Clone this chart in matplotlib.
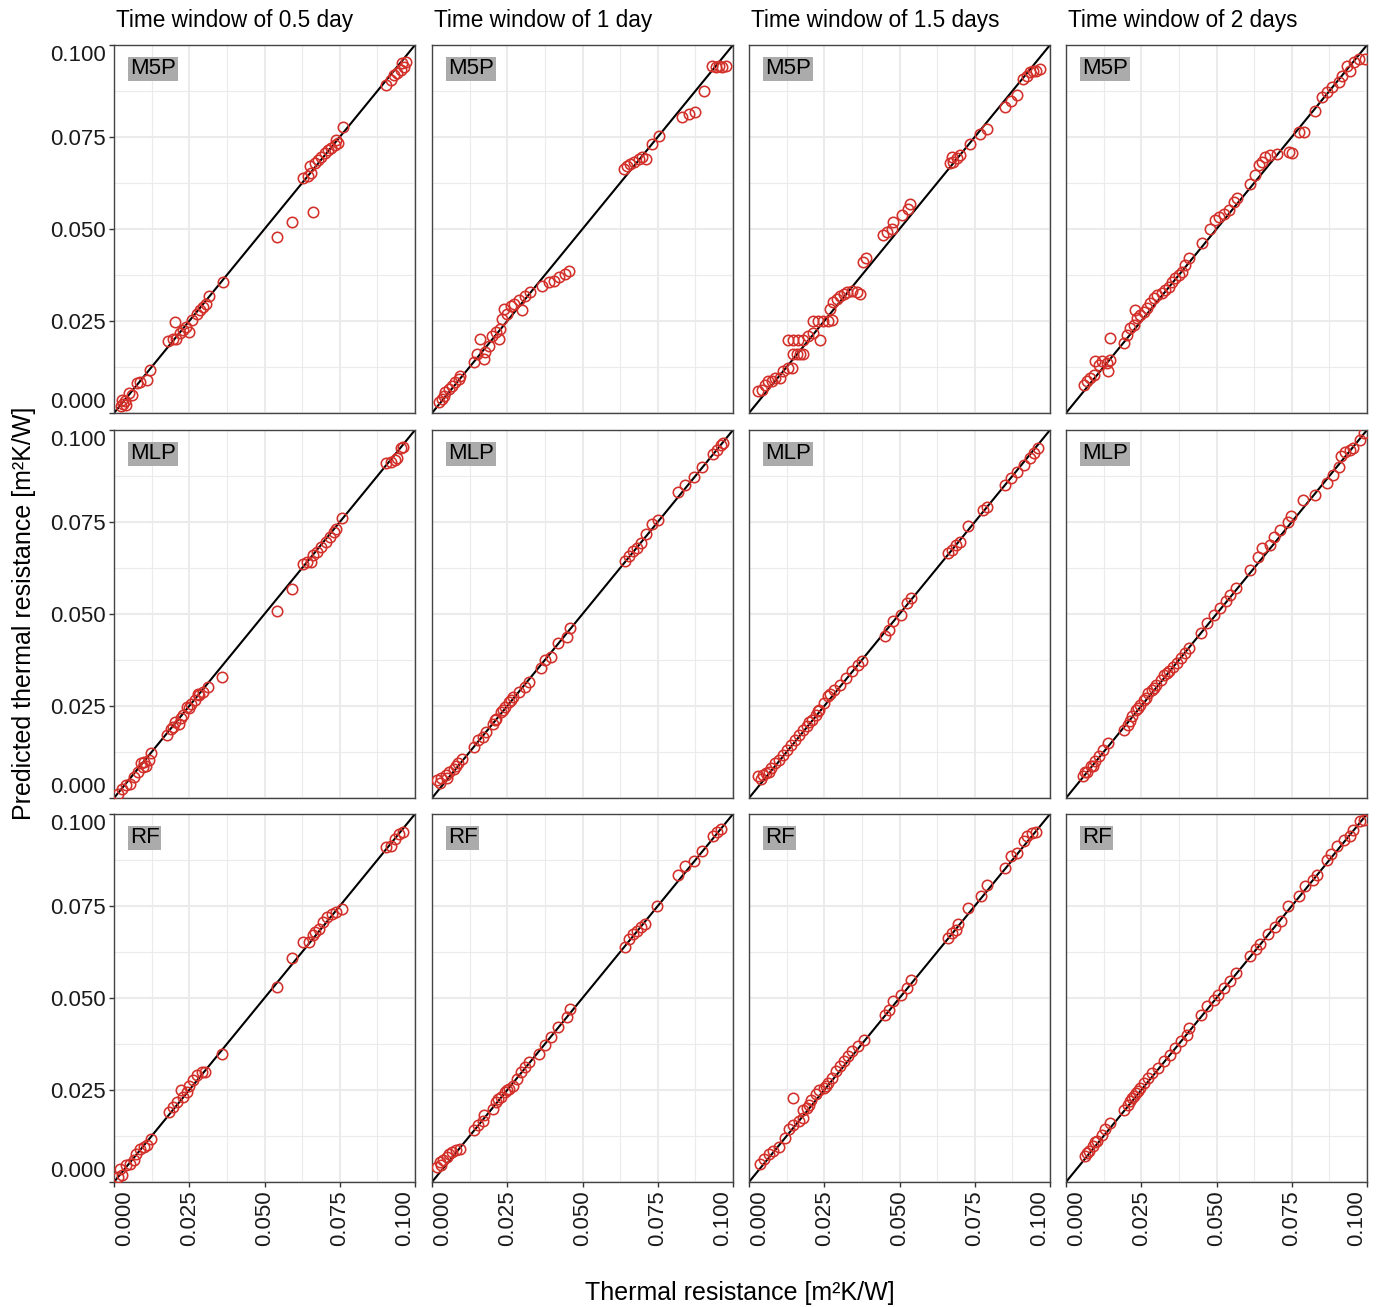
import numpy as np
import matplotlib
matplotlib.use('Agg')
import matplotlib.pyplot as plt
from matplotlib.ticker import MultipleLocator

plt.rcParams['font.family'] = ['Liberation Sans', 'DejaVu Sans']

windows = ['Time window of 0.5 day', 'Time window of 1 day',
           'Time window of 1.5 days', 'Time window of 2 days']
models = ['M5P', 'MLP', 'RF']
ticks = [0.000, 0.025, 0.050, 0.075, 0.100]
tick_labels = ['0.000', '0.025', '0.050', '0.075', '0.100']

m5p_05 = [(0.0022,0.0018),(0.0030,0.0025),(0.0035,0.0032),(0.0040,0.0022),(0.0028,0.0036),
          (0.0050,0.0054),(0.0060,0.0050),(0.0077,0.0081),(0.0088,0.0085),(0.0110,0.0090),(0.0120,0.0118),
          (0.0180,0.0195),(0.0195,0.0200),(0.0205,0.0200),(0.0204,0.0246),(0.0220,0.0217),(0.0230,0.0226),
          (0.0240,0.0235),(0.0250,0.0221),(0.0260,0.0253),(0.0275,0.0270),(0.0285,0.0279),(0.0295,0.0288),
          (0.0305,0.0297),(0.0314,0.0317),(0.0363,0.0357),
          (0.0542,0.0478),(0.0593,0.0518),(0.0661,0.0547),
          (0.0628,0.0638),(0.0645,0.0643),(0.0655,0.0652),(0.0650,0.0670),(0.0667,0.0679),(0.0678,0.0688),
          (0.0689,0.0697),(0.0700,0.0706),(0.0711,0.0715),(0.0722,0.0719),(0.0733,0.0728),(0.0744,0.0733),
          (0.0738,0.0742),(0.0762,0.0778),
          (0.0903,0.0891),(0.0919,0.0905),(0.0930,0.0919),(0.0941,0.0923),(0.0952,0.0932),(0.0958,0.0950),
          (0.0963,0.0941),(0.0969,0.0955)]
m5p_1 = [(0.0022,0.0029),(0.0033,0.0038),(0.0039,0.0047),(0.0044,0.0056),(0.0055,0.0065),(0.0066,0.0074),
         (0.0078,0.0083),(0.0089,0.0092),(0.0094,0.0101),
         (0.0139,0.0138),(0.0150,0.0160),(0.0161,0.0201),(0.0172,0.0147),(0.0177,0.0165),(0.0188,0.0183),
         (0.0200,0.0210),(0.0211,0.0219),(0.0222,0.0201),(0.0227,0.0228),(0.0233,0.0255),(0.0239,0.0283),
         (0.0250,0.0270),(0.0261,0.0292),(0.0272,0.0297),(0.0288,0.0306),(0.0299,0.0279),(0.0310,0.0319),
         (0.0327,0.0328),
         (0.0366,0.0346),(0.0388,0.0355),(0.0405,0.0360),(0.0421,0.0369),(0.0443,0.0378),(0.0455,0.0387),
         (0.0637,0.0663),(0.0648,0.0672),(0.0659,0.0677),(0.0670,0.0681),(0.0687,0.0690),(0.0698,0.0695),
         (0.0710,0.0690),(0.0732,0.0730),(0.0754,0.0753),
         (0.0831,0.0803),(0.0854,0.0812),(0.0874,0.0819),(0.0904,0.0876),
         (0.0931,0.0944),(0.0943,0.0940),(0.0954,0.0944),(0.0965,0.0940),(0.0976,0.0944)]
m5p_15 = [(0.0031,0.0059),(0.0042,0.0063),(0.0053,0.0077),(0.0064,0.0086),(0.0075,0.0086),(0.0086,0.0095),
          (0.0103,0.0095),(0.0114,0.0113),(0.0131,0.0122),(0.0142,0.0122),
          (0.0147,0.0160),(0.0158,0.0160),(0.0169,0.0160),(0.0180,0.0160),
          (0.0131,0.0199),(0.0147,0.0199),(0.0164,0.0199),(0.0180,0.0199),(0.0197,0.0208),(0.0214,0.0217),
          (0.0236,0.0199),
          (0.0214,0.0250),(0.0230,0.0250),(0.0247,0.0250),(0.0264,0.0250),(0.0275,0.0253),
          (0.0269,0.0283),(0.0280,0.0301),(0.0291,0.0310),(0.0302,0.0319),(0.0314,0.0323),(0.0325,0.0328),
          (0.0341,0.0332),(0.0358,0.0328),(0.0369,0.0323),
          (0.0380,0.0411),(0.0389,0.0420),
          (0.0446,0.0483),(0.0457,0.0492),(0.0474,0.0501),(0.0480,0.0519),(0.0507,0.0537),(0.0529,0.0555),
          (0.0535,0.0569),
          (0.0668,0.0678),(0.0679,0.0683),(0.0690,0.0692),(0.0701,0.0701),(0.0674,0.0697),
          (0.0734,0.0730),(0.0767,0.0757),(0.0790,0.0772),
          (0.0850,0.0831),(0.0872,0.0849),(0.0889,0.0863),
          (0.0911,0.0908),(0.0922,0.0917),(0.0933,0.0926),(0.0944,0.0930),(0.0955,0.0930),(0.0967,0.0935)]
m5p_2 = [(0.0059,0.0077),(0.0070,0.0086),(0.0081,0.0095),(0.0092,0.0104),(0.0097,0.0140),(0.0108,0.0131),
         (0.0119,0.0140),(0.0136,0.0135),(0.0141,0.0113),(0.0147,0.0145),
         (0.0147,0.0203),
         (0.0192,0.0190),(0.0203,0.0212),(0.0214,0.0230),(0.0225,0.0239),(0.0230,0.0280),(0.0236,0.0257),
         (0.0247,0.0266),(0.0258,0.0275),(0.0269,0.0284),(0.0280,0.0298),(0.0291,0.0312),(0.0302,0.0321),
         (0.0319,0.0325),(0.0330,0.0334),(0.0341,0.0343),(0.0352,0.0357),(0.0363,0.0366),(0.0374,0.0375),
         (0.0385,0.0384),(0.0396,0.0402),(0.0407,0.0421),
         (0.0452,0.0461),(0.0480,0.0501),(0.0496,0.0524),(0.0507,0.0533),(0.0524,0.0542),(0.0541,0.0551),
         (0.0557,0.0574),(0.0568,0.0583),
         (0.0612,0.0623),(0.0629,0.0646),(0.0640,0.0673),(0.0651,0.0682),(0.0662,0.0696),(0.0679,0.0700),
         (0.0701,0.0705),(0.0740,0.0710),(0.0751,0.0706),
         (0.0773,0.0763),(0.0790,0.0763),
         (0.0828,0.0822),(0.0850,0.0858),(0.0867,0.0872),(0.0884,0.0886),(0.0906,0.0899),(0.0917,0.0917),
         (0.0934,0.0944),(0.0945,0.0930),(0.0958,0.0953),(0.0974,0.0962),(0.0992,0.0962)]

mlp_05 = [(0.0014,0.0012),(0.0027,0.0025),(0.0041,0.0034),(0.0054,0.0039),(0.0068,0.0057),(0.0081,0.0071),
          (0.0095,0.0084),(0.0101,0.0098),(0.0115,0.0102),(0.0122,0.0121),(0.0090,0.0095),(0.0105,0.0088),
          (0.0176,0.0170),(0.0189,0.0188),(0.0203,0.0206),(0.0216,0.0202),(0.0230,0.0225),(0.0243,0.0247),
          (0.0257,0.0256),(0.0270,0.0265),(0.0284,0.0279),(0.0297,0.0288),(0.0311,0.0302),
          (0.0195,0.0194),(0.0222,0.0218),(0.0250,0.0245),(0.0278,0.0282),
          (0.0358,0.0329),(0.0541,0.0509),(0.0591,0.0569),
          (0.0628,0.0637),(0.0642,0.0641),(0.0655,0.0641),(0.0662,0.0659),(0.0676,0.0668),(0.0689,0.0682),
          (0.0703,0.0695),(0.0716,0.0709),(0.0730,0.0722),(0.0736,0.0731),(0.0759,0.0762),
          (0.0905,0.0909),(0.0919,0.0914),(0.0932,0.0918),(0.0939,0.0923),(0.0953,0.0950),(0.0959,0.0955)]
mlp_1 = [(0.0018,0.0048),(0.0031,0.0053),(0.0045,0.0062),(0.0058,0.0071),(0.0072,0.0080),(0.0085,0.0094),
         (0.0099,0.0107),(0.0025,0.0040),(0.0050,0.0055),(0.0080,0.0088),
         (0.0140,0.0139),(0.0154,0.0157),(0.0168,0.0166),(0.0180,0.0180),(0.0201,0.0202),(0.0214,0.0216),
         (0.0228,0.0234),(0.0241,0.0248),(0.0255,0.0261),(0.0268,0.0275),(0.0289,0.0288),(0.0309,0.0302),
         (0.0322,0.0316),(0.0208,0.0212),(0.0235,0.0238),(0.0262,0.0266),
         (0.0363,0.0352),(0.0377,0.0375),(0.0397,0.0384),(0.0417,0.0420),(0.0450,0.0438),(0.0458,0.0461),
         (0.0641,0.0643),(0.0654,0.0657),(0.0668,0.0670),(0.0682,0.0680),(0.0695,0.0693),(0.0710,0.0717),
         (0.0730,0.0744),(0.0750,0.0756),
         (0.0817,0.0832),(0.0840,0.0850),(0.0871,0.0873),(0.0898,0.0900),(0.0932,0.0936),(0.0946,0.0945),
         (0.0959,0.0959),(0.0966,0.0964)]
mlp_15 = [(0.0031,0.0059),(0.0045,0.0063),(0.0058,0.0068),(0.0072,0.0081),(0.0085,0.0095),(0.0099,0.0104),
          (0.0113,0.0118),(0.0126,0.0131),(0.0140,0.0145),(0.0154,0.0158),(0.0167,0.0172),(0.0180,0.0186),
          (0.0194,0.0195),(0.0208,0.0213),(0.0221,0.0226),(0.0234,0.0240),(0.0248,0.0258),(0.0262,0.0276),
          (0.0282,0.0294),(0.0302,0.0308),(0.0322,0.0326),(0.0343,0.0344),(0.0363,0.0362),(0.0377,0.0371),
          (0.0040,0.0052),(0.0065,0.0070),(0.0200,0.0206),(0.0228,0.0236),(0.0270,0.0282),
          (0.0451,0.0439),(0.0465,0.0457),(0.0478,0.0480),(0.0505,0.0498),(0.0526,0.0529),(0.0539,0.0543),
          (0.0661,0.0665),(0.0675,0.0674),(0.0688,0.0688),(0.0702,0.0697),(0.0729,0.0738),(0.0776,0.0783),
          (0.0790,0.0792),
          (0.0851,0.0851),(0.0871,0.0869),(0.0892,0.0887),(0.0912,0.0905),(0.0932,0.0923),(0.0946,0.0937),
          (0.0959,0.0950)]
mlp_2 = [(0.0057,0.0059),(0.0070,0.0072),(0.0084,0.0086),(0.0097,0.0100),(0.0111,0.0113),(0.0124,0.0131),
         (0.0138,0.0149),(0.0064,0.0070),(0.0090,0.0088),
         (0.0192,0.0186),(0.0205,0.0199),(0.0219,0.0222),(0.0232,0.0240),(0.0246,0.0253),(0.0259,0.0267),
         (0.0273,0.0285),(0.0286,0.0294),(0.0300,0.0308),(0.0314,0.0321),(0.0327,0.0335),(0.0341,0.0344),
         (0.0354,0.0357),(0.0368,0.0366),(0.0381,0.0380),(0.0395,0.0394),(0.0408,0.0407),
         (0.0212,0.0208),(0.0240,0.0244),(0.0265,0.0272),(0.0293,0.0300),(0.0334,0.0340),
         (0.0449,0.0448),(0.0470,0.0475),(0.0491,0.0498),(0.0511,0.0516),(0.0532,0.0534),(0.0546,0.0552),
         (0.0564,0.0570),
         (0.0611,0.0620),(0.0638,0.0656),(0.0651,0.0679),(0.0678,0.0688),(0.0692,0.0710),(0.0712,0.0729),
         (0.0739,0.0751),(0.0746,0.0765),
         (0.0786,0.0810),(0.0827,0.0824),(0.0868,0.0855),(0.0888,0.0878),(0.0908,0.0900),(0.0915,0.0928),
         (0.0928,0.0941),(0.0942,0.0946),(0.0955,0.0950),(0.0976,0.0973),(0.0989,0.0991)]

rf_05 = [(0.0014,0.0014),(0.0020,0.0036),(0.0027,0.0018),(0.0041,0.0045),(0.0054,0.0050),(0.0068,0.0059),
         (0.0074,0.0077),(0.0088,0.0090),(0.0101,0.0095),(0.0108,0.0100),(0.0122,0.0118),
         (0.0182,0.0190),(0.0196,0.0204),(0.0209,0.0217),(0.0223,0.0249),(0.0230,0.0231),(0.0243,0.0244),
         (0.0250,0.0262),(0.0264,0.0276),(0.0277,0.0290),(0.0291,0.0299),(0.0303,0.0299),
         (0.0358,0.0348),(0.0541,0.0529),(0.0591,0.0608),
         (0.0628,0.0652),(0.0649,0.0652),(0.0662,0.0670),(0.0669,0.0679),(0.0682,0.0688),(0.0696,0.0706),
         (0.0709,0.0719),(0.0723,0.0728),(0.0736,0.0733),(0.0759,0.0742),
         (0.0905,0.0910),(0.0919,0.0914),(0.0932,0.0932),(0.0946,0.0946),(0.0959,0.0952)]
rf_1 = [(0.0018,0.0041),(0.0031,0.0045),(0.0038,0.0059),(0.0051,0.0068),(0.0065,0.0081),(0.0079,0.0086),
        (0.0092,0.0090),(0.0025,0.0055),(0.0058,0.0075),
        (0.0140,0.0140),(0.0154,0.0154),(0.0168,0.0167),(0.0174,0.0181),(0.0201,0.0199),(0.0214,0.0217),
        (0.0228,0.0231),(0.0241,0.0244),(0.0255,0.0253),(0.0268,0.0262),(0.0282,0.0281),(0.0295,0.0299),
        (0.0309,0.0312),(0.0322,0.0326),(0.0220,0.0226),(0.0248,0.0250),
        (0.0356,0.0348),(0.0377,0.0371),(0.0397,0.0394),(0.0417,0.0421),(0.0450,0.0448),(0.0458,0.0471),
        (0.0641,0.0638),(0.0654,0.0661),(0.0668,0.0674),(0.0682,0.0683),(0.0695,0.0692),(0.0709,0.0701),
        (0.0749,0.0751),
        (0.0817,0.0833),(0.0840,0.0860),(0.0871,0.0873),(0.0898,0.0900),(0.0932,0.0941),(0.0946,0.0950),
        (0.0959,0.0959)]
rf_15 = [(0.0038,0.0048),(0.0051,0.0062),(0.0065,0.0075),(0.0079,0.0084),(0.0099,0.0094),(0.0119,0.0120),
         (0.0133,0.0143),(0.0146,0.0156),(0.0167,0.0165),(0.0180,0.0174),
         (0.0146,0.0229),
         (0.0180,0.0197),(0.0194,0.0202),(0.0207,0.0224),(0.0221,0.0238),(0.0234,0.0251),(0.0248,0.0256),
         (0.0262,0.0269),(0.0275,0.0283),(0.0289,0.0301),(0.0302,0.0315),(0.0316,0.0328),(0.0329,0.0342),
         (0.0343,0.0355),(0.0363,0.0369),(0.0383,0.0387),(0.0200,0.0210),(0.0255,0.0262),
         (0.0451,0.0455),(0.0465,0.0468),(0.0478,0.0491),(0.0505,0.0509),(0.0526,0.0527),(0.0539,0.0550),
         (0.0661,0.0663),(0.0675,0.0676),(0.0688,0.0685),(0.0695,0.0700),(0.0729,0.0745),(0.0770,0.0777),
         (0.0790,0.0808),
         (0.0851,0.0853),(0.0871,0.0885),(0.0892,0.0894),(0.0912,0.0926),(0.0925,0.0939),(0.0939,0.0948),
         (0.0953,0.0952)]
rf_2 = [(0.0064,0.0071),(0.0077,0.0084),(0.0091,0.0098),(0.0104,0.0111),(0.0118,0.0129),(0.0131,0.0143),
        (0.0145,0.0161),(0.0070,0.0080),(0.0098,0.0108),
        (0.0192,0.0197),(0.0205,0.0210),(0.0219,0.0229),(0.0232,0.0242),(0.0246,0.0256),(0.0259,0.0270),
        (0.0273,0.0283),(0.0286,0.0297),(0.0307,0.0310),(0.0327,0.0328),(0.0347,0.0346),(0.0361,0.0364),
        (0.0381,0.0382),(0.0401,0.0400),(0.0408,0.0419),(0.0212,0.0220),(0.0226,0.0235),(0.0240,0.0248),
        (0.0449,0.0455),(0.0470,0.0477),(0.0491,0.0495),(0.0504,0.0509),(0.0524,0.0527),(0.0545,0.0545),
        (0.0564,0.0568),
        (0.0611,0.0614),(0.0632,0.0633),(0.0645,0.0646),(0.0672,0.0674),(0.0693,0.0692),(0.0714,0.0710),
        (0.0739,0.0749),
        (0.0773,0.0776),(0.0793,0.0803),(0.0820,0.0821),(0.0834,0.0835),(0.0868,0.0876),(0.0881,0.0890),
        (0.0901,0.0912),(0.0922,0.0930),(0.0942,0.0939),(0.0955,0.0957),(0.0976,0.0980),(0.0989,0.0984)]

panels = [[m5p_05, m5p_1, m5p_15, m5p_2],
          [mlp_05, mlp_1, mlp_15, mlp_2],
          [rf_05, rf_1, rf_15, rf_2]]

W, H = 1384, 1307
fig = plt.figure(figsize=(W / 100, H / 100), dpi=100)

col_left = [114, 432, 749, 1066]
row_top = [45, 430, 814]
pw, ph = 301, 368

for r in range(3):
    for c in range(4):
        ax = fig.add_axes([col_left[c] / W, 1 - (row_top[r] + ph) / H, pw / W, ph / H])
        ax.set_xlim(0, 0.1)
        ax.set_ylim(0, 0.1)
        ax.set_xticks(ticks)
        ax.set_yticks(ticks)
        ax.xaxis.set_minor_locator(MultipleLocator(0.0125))
        ax.yaxis.set_minor_locator(MultipleLocator(0.0125))
        ax.grid(which='major', color='#EBEBEB', lw=1.5)
        ax.grid(which='minor', color='#EBEBEB', lw=0.8)
        ax.set_axisbelow(True)
        for s in ax.spines.values():
            s.set_color('#444444')
            s.set_linewidth(1.0)
        ax.tick_params(which='minor', length=0)
        ax.tick_params(which='major', length=3.5, width=1.0, color='#333333',
                       labelsize=16, labelcolor='#1a1a1a', pad=2.5)

        pts = np.array(panels[r][c])
        ax.axline((0, 0), slope=1, color='black', lw=1.5, zorder=2)
        ax.plot(pts[:, 0], pts[:, 1], 'o', mfc='none', mec='#D3302A', ms=7.5, mew=1.15, zorder=3)

        ax.text(0.0053, 0.0935, models[r], fontsize=16, ha='left', va='center',
                bbox=dict(boxstyle='square,pad=0.08', fc='#ABABAB', ec='none'), zorder=4)

        if c == 0:
            ax.set_yticklabels(tick_labels)
            yt = ax.yaxis.get_major_ticks()
            yt[0].label1.set_verticalalignment('bottom')
            yt[-1].label1.set_verticalalignment('top')
        else:
            ax.tick_params(axis='y', left=False, labelleft=False)
        if r == 2:
            ax.set_xticklabels(tick_labels, rotation=90)
            xt = ax.xaxis.get_major_ticks()
            xt[0].label1.set_horizontalalignment('left')
            xt[-1].label1.set_horizontalalignment('right')
        else:
            ax.tick_params(axis='x', bottom=False, labelbottom=False)

        if r == 0:
            fig.text((col_left[c] + 2) / W, 1 - 21 / H, windows[c], fontsize=16.3,
                     ha='left', va='center', color='black')

fig.text(740 / W, 1 - 1293 / H, 'Thermal resistance [m²K/W]', fontsize=18,
         ha='center', va='center')
fig.text(24 / W, 1 - 613 / H, 'Predicted thermal resistance [m²K/W]', fontsize=18,
         ha='center', va='center', rotation=90)

fig.savefig('out.png', dpi=100, facecolor='white')
